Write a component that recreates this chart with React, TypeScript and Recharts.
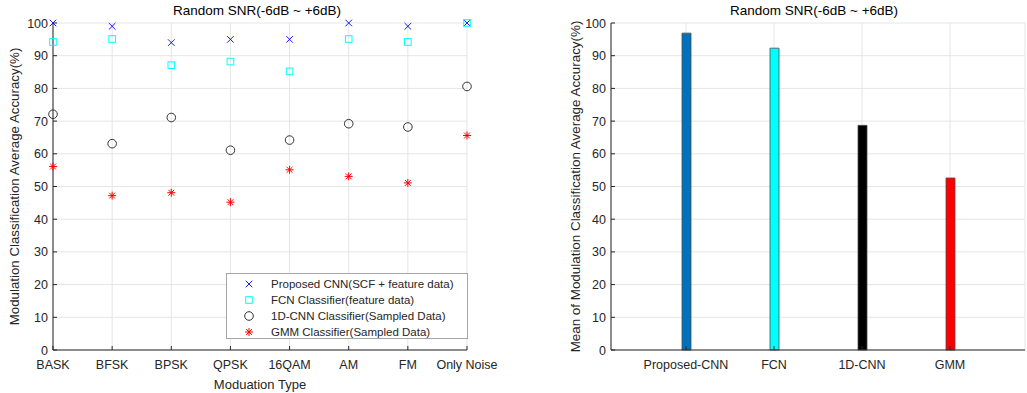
import React from "react";
import {
  ScatterChart, Scatter, BarChart, Bar, Cell,
  XAxis, YAxis, CartesianGrid,
} from "recharts";

const modulations = ["BASK", "BFSK", "BPSK", "QPSK", "16QAM", "AM", "FM", "Only Noise"];
const proposedCnn = [100, 99, 94, 95, 95, 100, 99, 100];
const fcn = [94.2, 95.1, 87.1, 88.2, 85.2, 95.1, 94.2, 100];
const cnn1d = [72.1, 63.1, 71.1, 61.1, 64.2, 69.2, 68.2, 80.6];
const gmm = [56.1, 47.2, 48.1, 45.2, 55.1, 53.1, 51.1, 65.6];

const classifiers = ["Proposed-CNN", "FCN", "1D-CNN", "GMM"];
const meanAccuracy = [96.9, 92.3, 68.7, 52.6];
const barColors = ["#0072BD", "#00FFFF", "#000000", "#FF0000"];

const yTicks = [0, 10, 20, 30, 40, 50, 60, 70, 80, 90, 100];
const xTicks = [1, 2, 3, 4, 5, 6, 7, 8];

const FONT = "'Liberation Sans', Arial, Helvetica, sans-serif";
const INK = "#262626";
const GRID = "#e5e5e5";

const toPoints = (vals: number[]) => vals.map((v, i) => ({ x: i + 1, y: v }));

// MATLAB-ish markers
const XMark = ({ cx, cy }: any) => (
  <path d={`M${cx - 3.3},${cy - 3.3}L${cx + 3.3},${cy + 3.3}M${cx - 3.3},${cy + 3.3}L${cx + 3.3},${cy - 3.3}`}
    stroke="#0000FF" strokeWidth={0.9} fill="none" />
);
const SquareMark = ({ cx, cy }: any) => (
  <rect x={cx - 3.3} y={cy - 3.3} width={6.6} height={6.6} stroke="#00FFFF" strokeWidth={1} fill="none" />
);
const CircleMark = ({ cx, cy }: any) => (
  <circle cx={cx} cy={cy} r={4.3} stroke="#333333" strokeWidth={1} fill="none" />
);
const StarMark = ({ cx, cy }: any) => (
  <path d={`M${cx - 4},${cy}L${cx + 4},${cy}M${cx},${cy - 4}L${cx},${cy + 4}M${cx - 2.9},${cy - 2.9}L${cx + 2.9},${cy + 2.9}M${cx - 2.9},${cy + 2.9}L${cx + 2.9},${cy - 2.9}`}
    stroke="#FF0000" strokeWidth={1} fill="none" />
);

// ticks with inward tick marks, like MATLAB
const YTick = ({ x, y, payload }: any) => (
  <g>
    <text x={x} y={y} dy={4.5} textAnchor="end" fill={INK} fontSize={12.5} fontFamily={FONT}>{payload.value}</text>
    <line x1={x + 5} x2={x + 9} y1={y} y2={y} stroke={INK} strokeWidth={1} />
  </g>
);
const makeXTick = (labels: (v: any) => string) => ({ x, y, payload }: any) => (
  <g>
    <text x={x} y={y} dy={12} textAnchor="middle" fill={INK} fontSize={12.5} fontFamily={FONT}>{labels(payload.value)}</text>
    <line x1={x} x2={x} y1={y - 7} y2={y - 11} stroke={INK} strokeWidth={1} />
  </g>
);
const ModTick = makeXTick((v) => modulations[v - 1] ?? "");
const ClsTick = makeXTick((v) => v);

const legendItems = [
  { name: "Proposed CNN(SCF + feature data)", Mark: XMark },
  { name: "FCN Classifier(feature data)", Mark: SquareMark },
  { name: "1D-CNN Classifier(Sampled Data)", Mark: CircleMark },
  { name: "GMM Classifier(Sampled Data)", Mark: StarMark },
];

const LegendBox = () => (
  <div style={{
    position: "absolute", left: 226, top: 273,
    width: 242, height: 66, border: "1px solid #a6a6a6", background: "#fff",
    boxSizing: "border-box", paddingTop: 2, fontFamily: FONT, fontSize: 11.5, color: INK,
  }}>
    {legendItems.map(({ name, Mark }) => (
      <div key={name} style={{ display: "flex", alignItems: "center", height: 16 }}>
        <svg width={44} height={16} style={{ flex: "none" }}>
          <Mark cx={22} cy={8} />
        </svg>
        <span style={{ whiteSpace: "nowrap" }}>{name}</span>
      </div>
    ))}
  </div>
);

const Title = ({ left, text }: { left: number; text: string }) => (
  <div style={{
    position: "absolute", left: left - 150, width: 300, top: 3, textAlign: "center",
    fontFamily: FONT, fontSize: 13.5, color: "#000",
  }}>{text}</div>
);

export default function App() {
  const barData = classifiers.map((c, i) => ({ name: c, value: meanAccuracy[i] }));
  return (
    <div style={{ position: "absolute", left: 0, top: 0, width: 1027, height: 393, background: "#fff", overflow: "hidden" }}>
      <Title left={257} text="Random SNR(-6dB ~ +6dB)" />
      <Title left={814} text="Random SNR(-6dB ~ +6dB)" />

      <div style={{ position: "absolute", left: 0, top: 0 }}>
        <ScatterChart width={520} height={393} margin={{ top: 23, right: 53, left: 0, bottom: 0 }}>
          <CartesianGrid stroke={GRID} />
          <XAxis
            type="number" dataKey="x" domain={[1, 8]} ticks={xTicks} interval={0}
            height={43} tickSize={0} tickMargin={7} stroke={INK} tick={<ModTick />}
            label={{ value: "Moduation Type", position: "insideBottom", offset: 4, fill: INK, fontSize: 13, fontFamily: FONT }}
          />
          <YAxis
            type="number" dataKey="y" domain={[0, 100]} ticks={yTicks} interval={0}
            width={53} tickSize={0} tickMargin={5} stroke={INK} tick={<YTick />}
            label={{ value: "Modulation Classification Average Accuracy(%)", angle: -90, position: "insideLeft", offset: 14, fill: INK, fontSize: 13.3, fontFamily: FONT, style: { textAnchor: "middle" } }}
          />
          <Scatter name="Proposed CNN(SCF + feature data)" data={toPoints(proposedCnn)} shape={<XMark />} isAnimationActive={false} />
          <Scatter name="FCN Classifier(feature data)" data={toPoints(fcn)} shape={<SquareMark />} isAnimationActive={false} />
          <Scatter name="1D-CNN Classifier(Sampled Data)" data={toPoints(cnn1d)} shape={<CircleMark />} isAnimationActive={false} />
          <Scatter name="GMM Classifier(Sampled Data)" data={toPoints(gmm)} shape={<StarMark />} isAnimationActive={false} />
        </ScatterChart>
      </div>
      <LegendBox />

      <div style={{ position: "absolute", left: 520, top: 0 }}>
        <BarChart width={507} height={393} data={barData} margin={{ top: 23, right: 2, left: 0, bottom: 0 }}>
          <CartesianGrid stroke={GRID} />
          <XAxis
            dataKey="name" padding={{ left: 31, right: 31 }} height={43} tickSize={0} tickMargin={7}
            stroke={INK} tick={<ClsTick />} interval={0}
          />
          <YAxis
            domain={[0, 100]} ticks={yTicks} interval={0} width={91} tickSize={0} tickMargin={5}
            stroke={INK} tick={<YTick />}
            label={{ value: "Mean of Modulation Classification Average Accuracy(%)", angle: -90, position: "insideLeft", offset: 55, fill: INK, fontSize: 13.4, fontFamily: FONT, style: { textAnchor: "middle" } }}
          />
          <Bar dataKey="value" barSize={9} stroke="#4d4d4d" strokeWidth={0.8} isAnimationActive={false}>
            {barData.map((d, i) => <Cell key={d.name} fill={barColors[i]} />)}
          </Bar>
        </BarChart>
      </div>
    </div>
  );
}
